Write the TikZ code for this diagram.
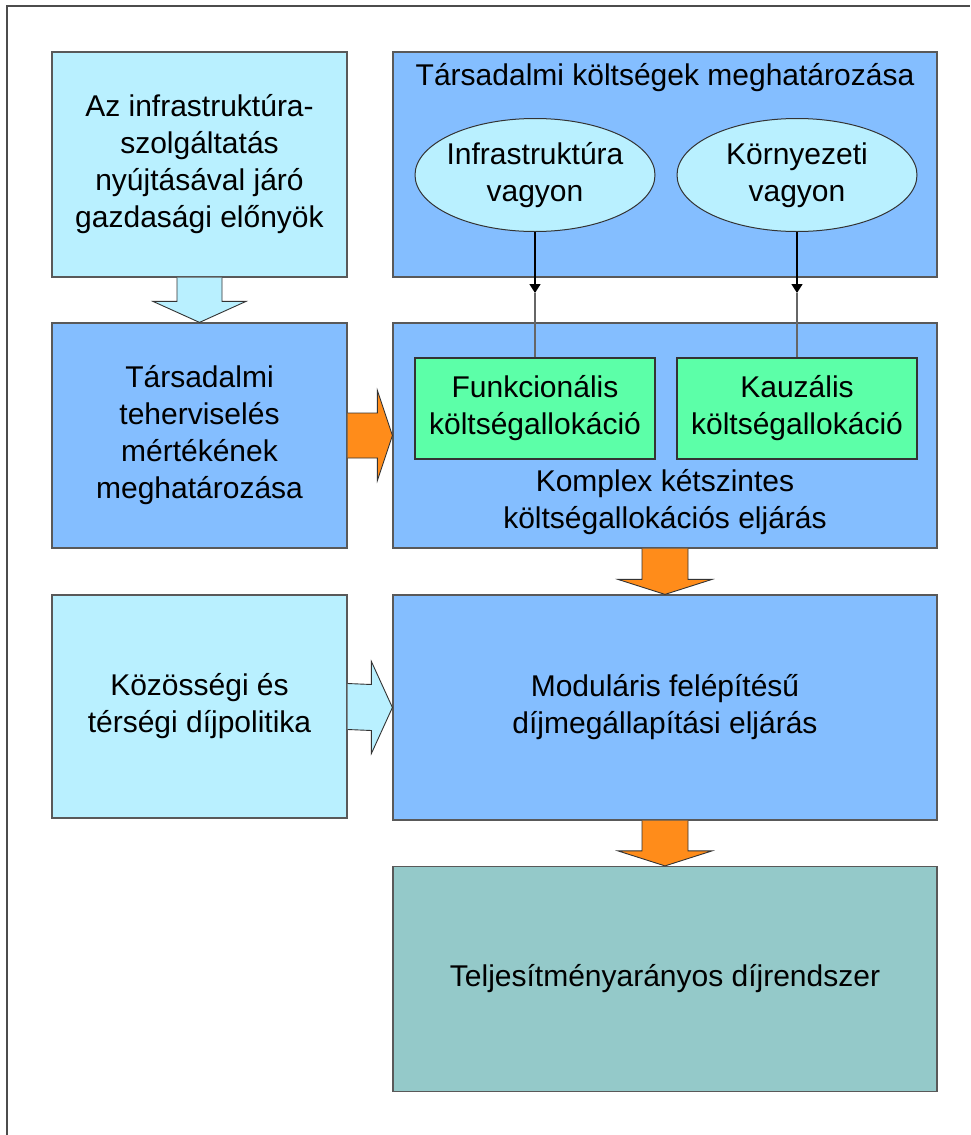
\documentclass[tikz,border=0pt]{standalone}
\usepackage{fontspec}
\setmainfont{Liberation Sans}
\usetikzlibrary{shapes.geometric, calc, arrows.meta}

\definecolor{lightcyan}{HTML}{B9F0FF}
\definecolor{boxblue}{HTML}{84BEFF}
\definecolor{allocgreen}{HTML}{5CFFA8}
\definecolor{arroworange}{HTML}{FF8C1A}
\definecolor{resultteal}{HTML}{94C9C9}

\tikzset{
	box/.style={rectangle, draw=black!65, line width=1.2pt, inner sep=0pt},
	txt/.style={align=center, inner sep=0pt, font=\fontsize{30}{37}\selectfont},
	blockline/.style={draw=black!80, line width=0.9pt, line join=miter},
}

\newcommand{\downblock}[6]{%
	\filldraw[blockline, fill=#1] ($(#2.south)+(-#4,0)$) -- ($(#3.north)+(-#4,-#6)$) -- ($(#3.north)+(-#5,-#6)$) -- (#3.north) -- ($(#3.north)+(#5,-#6)$) -- ($(#3.north)+(#4,-#6)$) -- ($(#2.south)+(#4,0)$);}
\newcommand{\rightblock}[6]{%
	\filldraw[blockline, fill=#1] ($(#2.east)+(0,-#4)$) -- ($(#3.west)+(-#6,-#4)$) -- ($(#3.west)+(-#6,-#5)$) -- (#3.west) -- ($(#3.west)+(-#6,#5)$) -- ($(#3.west)+(-#6,#4)$) -- ($(#2.east)+(0,#4)$);}

\begin{document}
\begin{tikzpicture}[x=1pt, y=-1pt]
			\useasboundingbox (0,0) rectangle (970,1135);
			\draw[black!70, line width=1.2pt] (7,1135) -- (7,6) -- (970,6);
			
			\node[box, fill=lightcyan, minimum width=295pt, minimum height=225pt] (benefit) at (199.5,164.5) {};
			\node[box, fill=boxblue, minimum width=544pt, minimum height=225pt] (cost) at (665,164.5) {};
			\node[box, fill=boxblue, minimum width=295pt, minimum height=225pt] (burden) at (199.5,435.5) {};
			\node[box, fill=boxblue, minimum width=544pt, minimum height=225pt] (complex) at (665,435.5) {};
			\node[box, fill=lightcyan, minimum width=295pt, minimum height=223pt] (policy) at (199.5,706.5) {};
			\node[box, fill=boxblue, minimum width=544pt, minimum height=225pt] (modular) at (665,707.5) {};
			\node[box, fill=resultteal, minimum width=544pt, minimum height=225pt] (result) at (665,979) {};
			
			\node[ellipse, draw=black!80, line width=1pt, fill=lightcyan, minimum width=240pt, minimum height=113pt, inner sep=0pt] (infra) at (535,175) {};
			\node[ellipse, draw=black!80, line width=1pt, fill=lightcyan, minimum width=240pt, minimum height=113pt, inner sep=0pt] (env) at (797,175) {};
			\node[box, draw=black!80, fill=allocgreen, minimum width=240pt, minimum height=101pt] (func) at (535,408.5) {};
			\node[box, draw=black!80, fill=allocgreen, minimum width=240pt, minimum height=101pt] (caus) at (797,408.5) {};
			
			\node[txt] (t1) at (benefit) {Az infrastruktúra-\\szolgáltatás\\nyújtásával járó\\gazdasági előnyök};
			\node[txt] (t2) at (665,78) {Társadalmi költségek meghatározása};
			\node[txt] (t3) at (infra) {Infrastruktúra\\vagyon};
			\node[txt] (t4) at (env) {Környezeti\\vagyon};
			\node[txt] (t5) at (burden) {Társadalmi\\teherviselés\\mértékének\\meghatározása};
			\node[txt] (t6) at (func) {Funkcionális\\költségallokáció};
			\node[txt] (t7) at (caus) {Kauzális\\költségallokáció};
			\node[txt] (t8) at (665,502) {Komplex kétszintes\\költségallokációs eljárás};
			\node[txt] (t9) at (policy) {Közösségi és\\térségi díjpolitika};
			\node[txt] (t10) at (modular) {Moduláris felépítésű\\díjmegállapítási eljárás};
			\node[txt] (t11) at (result) {Teljesítményarányos díjrendszer};
			
			\coordinate (k1) at (535,293);
			\coordinate (k2) at (797,293);
			\draw[line width=1.5pt, -{Triangle[length=9pt, width=11pt]}] (infra.south) -- (k1);
			\draw[line width=1.5pt, -{Triangle[length=9pt, width=11pt]}] (env.south) -- (k2);
			\draw[black!60, line width=1.3pt] (k1) -- (func.north);
			\draw[black!60, line width=1.3pt] (k2) -- (caus.north);
			
			\downblock{lightcyan}{benefit}{burden}{22.5}{46.5}{21}
			\rightblock{arroworange}{burden}{complex}{22.5}{45}{15}
			\rightblock{lightcyan}{policy}{modular}{23}{46}{21}
			\downblock{arroworange}{complex}{modular}{23}{47}{15}
			\downblock{arroworange}{modular}{result}{23}{47}{15}
		\end{tikzpicture}
\end{document}
